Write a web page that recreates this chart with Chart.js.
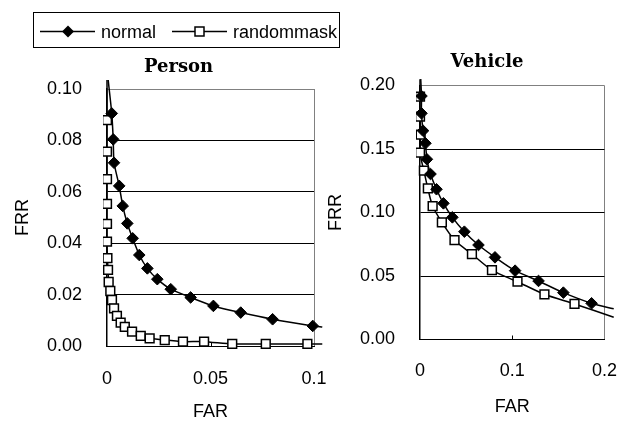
<!DOCTYPE html>
<html>
<head>
<meta charset="utf-8">
<script src="https://cdn.jsdelivr.net/npm/chart.js@4.4.1/dist/chart.umd.min.js"></script>
<style>
  body { margin: 0; background: #fff; width: 638px; height: 421px; overflow: hidden; position: relative; }
  canvas { position: absolute; top: 0; }
  #person { left: 0; }
  #vehicle { left: 326px; }
</style>
</head>
<body>
<canvas id="person" width="360" height="421"></canvas>
<canvas id="vehicle" width="312" height="421"></canvas>
<script>
// ===== data (first / last points are where the line leaves the plot) =====
const seriesNames = ['normal', 'randommask'];

const personNormalFar = [0.0005, 0.0023, 0.003, 0.0034, 0.0059, 0.0076, 0.0098, 0.0124, 0.0156, 0.0195, 0.0243, 0.0308, 0.0404, 0.0514, 0.0646, 0.08, 0.0994, 0.104];
const personNormalFrr = [0.104, 0.0905, 0.0804, 0.0713, 0.0623, 0.0545, 0.0477, 0.0419, 0.0354, 0.0302, 0.026, 0.0221, 0.0189, 0.0156, 0.013, 0.0104, 0.0078, 0.0074];
const personMaskFar = [0, 0, 0, 0, 0, 0, 0, 0.0002, 0.0005, 0.0008, 0.0016, 0.0024, 0.0034, 0.0048, 0.0066, 0.0086, 0.0121, 0.0163, 0.0206, 0.0279, 0.0367, 0.0469, 0.0605, 0.0767, 0.0968, 0.104];
const personMaskFrr = [0.104, 0.0879, 0.0756, 0.0649, 0.0553, 0.0475, 0.0406, 0.0342, 0.0296, 0.0249, 0.0214, 0.0179, 0.0146, 0.0117, 0.0091, 0.0074, 0.0056, 0.0039, 0.003, 0.0023, 0.0017, 0.0017, 0.0008, 0.0008, 0.0008, 0.0008];

const vehicleNormalFar = [0.0008, 0.0016, 0.0016, 0.0033, 0.0059, 0.0075, 0.0114, 0.0179, 0.0254, 0.0351, 0.0481, 0.0634, 0.0813, 0.1031, 0.1285, 0.1554, 0.186, 0.21];
const vehicleNormalFrr = [0.205, 0.1917, 0.1781, 0.1644, 0.1545, 0.1419, 0.1303, 0.1183, 0.1072, 0.0962, 0.0849, 0.0744, 0.0647, 0.0542, 0.0461, 0.0369, 0.0285, 0.0242];
const vehicleMaskFar = [0, 0, 0, 0.0007, 0, 0.0042, 0.0085, 0.0137, 0.0237, 0.0374, 0.0563, 0.078, 0.1057, 0.1349, 0.1675, 0.21];
const vehicleMaskFrr = [0.205, 0.1912, 0.1755, 0.1613, 0.1471, 0.1329, 0.119, 0.1051, 0.0923, 0.0783, 0.0673, 0.0547, 0.0455, 0.0356, 0.028, 0.0175];

const personXTicks = [0, 0.05, 0.1];
const personYTicks = [0, 0.02, 0.04, 0.06, 0.08, 0.1];
const vehicleXTicks = [0, 0.1, 0.2];
const vehicleYTicks = [0, 0.05, 0.1, 0.15, 0.2];

// ===== helpers =====
const sansFont = 'Liberation Sans, Arial, sans-serif';

function zip(xs, ys) {
  return xs.map((x, i) => ({ x: x, y: ys[i] }));
}

// hide marker on the two end points (they only carry the line to the border)
function innerRadius(r) {
  return ctx => (ctx.dataIndex === 0 || ctx.dataIndex === ctx.dataset.data.length - 1) ? 0 : r;
}

function makeDatasets(normalFar, normalFrr, maskFar, maskFrr, tension) {
  return [{
    label: seriesNames[0],
    data: zip(normalFar, normalFrr),
    showLine: true,
    borderColor: '#000',
    borderWidth: 1.5,
    backgroundColor: '#000',
    pointStyle: 'rectRot',
    pointRadius: innerRadius(5.8),
    pointBorderWidth: 1,
    tension: tension,
    clip: { left: 4, top: 9, right: 10, bottom: 4 }
  }, {
    label: seriesNames[1],
    data: zip(maskFar, maskFrr),
    showLine: true,
    borderColor: '#000',
    borderWidth: 1.5,
    backgroundColor: '#fff',
    pointStyle: 'rect',
    pointRadius: innerRadius(6.2),
    pointBorderWidth: 1.5,
    tension: tension,
    clip: { left: 4, top: 9, right: 10, bottom: 4 }
  }];
}

// titles drawn at a fixed spot like the original sheet
const panelTitle = {
  id: 'panelTitle',
  afterDraw(chart, args, opts) {
    const ctx = chart.ctx;
    ctx.save();
    ctx.font = 'bold 18px "DejaVu Serif", serif';
    ctx.fillStyle = '#000';
    ctx.textAlign = 'center';
    ctx.textBaseline = 'middle';
    ctx.fillText(opts.text, opts.x, opts.y);
    ctx.restore();
  }
};

// small inside tick marks on the x axis, at the inner tick values
const innerTicks = {
  id: 'innerTicks',
  afterDatasetsDraw(chart) {
    const xs = chart.scales.x;
    const ctx = chart.ctx;
    const bottom = chart.chartArea.bottom;
    ctx.save();
    ctx.strokeStyle = '#000';
    ctx.lineWidth = 1;
    xs.ticks.slice(1, -1).forEach(t => {
      const px = Math.round(xs.getPixelForValue(t.value)) + 0.5;
      ctx.beginPath();
      ctx.moveTo(px, bottom);
      ctx.lineTo(px, bottom - 4);
      ctx.stroke();
    });
    ctx.restore();
  }
};

// boxed legend: line - marker - line, then the name
const boxLegend = {
  id: 'boxLegend',
  afterDraw(chart, args, opts) {
    if (!opts.show) return;
    const ctx = chart.ctx;
    ctx.save();
    ctx.strokeStyle = '#000';
    ctx.lineWidth = 1;
    ctx.strokeRect(33.5, 12.5, 306, 35);
    const cy = 31.5;
    const items = [{ x0: 40, x1: 95, mx: 68, text: 101 }, { x0: 172, x1: 227, mx: 199.5, text: 233 }];
    ctx.font = '18px ' + sansFont;
    ctx.textBaseline = 'alphabetic';
    ctx.fillStyle = '#000';
    items.forEach((it, i) => {
      ctx.lineWidth = 1.5;
      ctx.beginPath();
      ctx.moveTo(it.x0, cy);
      ctx.lineTo(it.x1, cy);
      ctx.stroke();
      ctx.beginPath();
      if (i === 0) {
        ctx.moveTo(it.mx, cy - 6);
        ctx.lineTo(it.mx + 6, cy);
        ctx.lineTo(it.mx, cy + 6);
        ctx.lineTo(it.mx - 6, cy);
        ctx.closePath();
        ctx.fillStyle = '#000';
        ctx.fill();
      } else {
        ctx.rect(it.mx - 4.5, cy - 4.5, 9, 9);
        ctx.fillStyle = '#fff';
        ctx.fill();
        ctx.stroke();
      }
      ctx.fillStyle = '#000';
      ctx.fillText(seriesNames[i], it.text, 38);
    });
    ctx.restore();
  }
};

function makeChart(id, datasets, cfg) {
  const xMax = cfg.xTicks[cfg.xTicks.length - 1];
  const yMax = cfg.yTicks[cfg.yTicks.length - 1];
  return new Chart(document.getElementById(id), {
    type: 'scatter',
    data: { datasets: datasets },
    plugins: [panelTitle, innerTicks, boxLegend],
    options: {
      responsive: false,
      animation: false,
      events: [],
      layout: { padding: cfg.padding },
      plugins: {
        legend: { display: false },
        tooltip: { enabled: false },
        panelTitle: cfg.title,
        boxLegend: { show: cfg.legend }
      },
      scales: {
        x: {
          type: 'linear',
          min: cfg.xTicks[0],
          max: xMax,
          afterBuildTicks: s => { s.ticks = cfg.xTicks.map(v => ({ value: v })); },
          afterFit: s => { s.height = cfg.xHeight; },
          ticks: {
            color: '#000',
            padding: cfg.xTickPad,
            maxRotation: 0,
            font: { family: sansFont, size: 18 },
            callback: v => String(v)
          },
          grid: {
            drawTicks: false,
            color: c => (c.tick && c.tick.value === xMax) ? '#808080' : 'rgba(0,0,0,0)',
            lineWidth: 1
          },
          border: { color: '#000', width: 1 },
          title: {
            display: true,
            text: 'FAR',
            color: '#000',
            font: { family: sansFont, size: 18, lineHeight: 1 },
            padding: { top: 0, bottom: 0 }
          }
        },
        y: {
          type: 'linear',
          min: cfg.yTicks[0],
          max: yMax,
          afterBuildTicks: s => { s.ticks = cfg.yTicks.map(v => ({ value: v })); },
          afterFit: s => { s.width = cfg.yWidth; },
          ticks: {
            color: '#000',
            padding: 25,
            font: { family: sansFont, size: 18 },
            callback: v => Number(v).toFixed(2)
          },
          grid: {
            drawTicks: false,
            color: c => (c.tick && c.tick.value === yMax) ? '#808080' : '#000',
            lineWidth: 1
          },
          border: { color: '#000', width: 1.5 },
          title: {
            display: true,
            text: 'FRR',
            color: '#000',
            font: { family: sansFont, size: 18, lineHeight: 1 },
            padding: { top: cfg.yTitlePad, bottom: 0 }
          }
        }
      }
    }
  });
}

makeChart('person', makeDatasets(personNormalFar, personNormalFrr, personMaskFar, personMaskFrr, 0.2), {
  xTicks: personXTicks,
  yTicks: personYTicks,
  padding: { top: 89, left: 0, right: 46, bottom: 0 },
  xHeight: 75,
  yWidth: 107,
  xTickPad: 22,
  yTitlePad: 14,
  title: { text: 'Person', x: 178.5, y: 67 },
  legend: true
});

makeChart('vehicle', makeDatasets(vehicleNormalFar, vehicleNormalFrr, vehicleMaskFar, vehicleMaskFrr, 0.3), {
  xTicks: vehicleXTicks,
  yTicks: vehicleYTicks,
  padding: { top: 85.5, left: 0, right: 13, bottom: 5 },
  xHeight: 76.5,
  yWidth: 94,
  xTickPad: 21,
  yTitlePad: 1.5,
  title: { text: 'Vehicle', x: 161, y: 62 },
  legend: false
});
</script>
</body>
</html>
